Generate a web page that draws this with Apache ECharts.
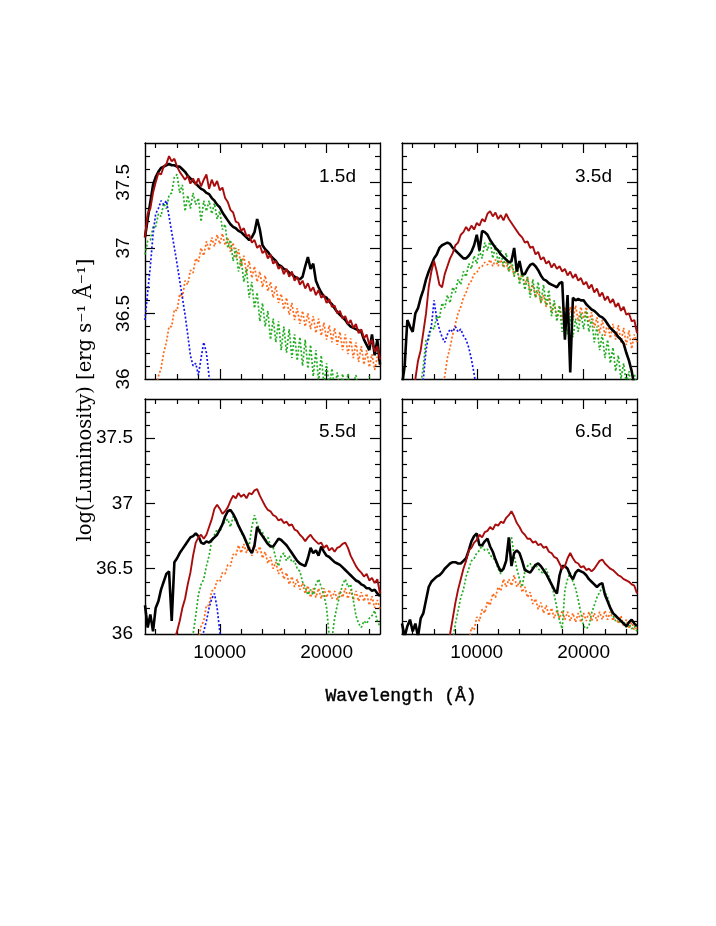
<!DOCTYPE html>
<html>
<head>
<meta charset="utf-8">
<script src="https://cdn.jsdelivr.net/npm/echarts@6/dist/echarts.min.js"></script>
<style>
html,body{margin:0;padding:0;background:#fff;}
#chart{width:716px;height:926px;}
</style>
</head>
<body>
<div id="chart"></div>
<script>
// Wavelength sample grid (Å)
const WL = [
3000,3250,3500,3750, 4000,4250,4500,4750, 5000,5250,5500,5750, 6000,6250,6500,6750,
7000,7250,7500,7750, 8000,8250,8500,8750, 9000,9250,9500,9750, 10000,10250,10500,10750,
11000,11250,11500,11750, 12000,12250,12500,12750, 13000,13250,13500,13750, 14000,14250,14500,14750,
15000,15250,15500,15750, 16000,16250,16500,16750, 17000,17250,17500,17750, 18000,18250,18500,18750,
19000,19250,19500,19750, 20000,20250,20500,20750, 21000,21250,21500,21750, 22000,22250,22500,22750,
23000,23250,23500,23750, 24000,24250,24500,24750, 25000];

const PANEL_LABELS = ['1.5d','3.5d','5.5d','6.5d'];
const X_LABELS = [10000, 20000];
const X_MAJOR = [10000, 20000];
const X_MINOR = [4000,6000,8000,12000,14000,16000,18000,22000,24000];
const Y_LABELS = [36, 36.5, 37, 37.5];
const Y_MAJOR = [36.5, 37, 37.5];
const Y_MINOR = [36.1,36.2,36.3,36.4,36.6,36.7,36.8,36.9,37.1,37.2,37.3,37.4,37.6,37.7];

// ---------- Panel 1.5d ----------
const tl_black = [
37.08,37.22,37.35,37.48, 37.54,37.58,37.61,37.62, 37.63,37.64,37.63,37.63, 37.62,37.62,37.60,37.58,
37.55,37.53,37.51,37.49, 37.47,37.45,37.44,37.42, 37.41,37.38,37.36,37.33, 37.31,37.27,37.24,37.21,
37.18,37.16,37.15,37.13, 37.12,37.10,37.08,37.06, 37.08,37.12,37.22,37.14, 37.02,36.99,36.97,36.94,
36.92,36.90,36.87,36.86, 36.84,36.83,36.81,36.80, 36.78,36.77,36.76,36.78, 36.86,36.93,36.84,36.88,
36.75,36.70,36.66,36.63, 36.62,36.59,36.57,36.54, 36.51,36.49,36.47,36.45, 36.42,36.40,36.39,36.38,
36.37,36.36,36.30,36.26, 36.22,36.34,36.18,36.30, 36.11];
const tl_red = [
37.08,37.26,37.30,37.42, 37.50,37.57,37.56,37.62, 37.64,37.70,37.66,37.68, 37.62,37.58,37.55,37.52,
37.55,37.49,37.53,37.48, 37.53,37.47,37.52,37.56, 37.45,37.52,37.47,37.51, 37.44,37.46,37.38,37.35,
37.29,37.27,37.20,37.19, 37.13,37.15,37.09,37.10, 37.04,37.06,37.00,37.02, 36.96,36.98,36.92,36.95,
36.88,36.90,36.84,36.86, 36.80,36.84,36.78,36.82, 36.75,36.78,36.72,36.75, 36.69,36.73,36.67,36.70,
36.64,36.68,36.62,36.64, 36.58,36.61,36.55,36.56, 36.50,36.52,36.46,36.48, 36.42,36.45,36.39,36.42,
36.35,36.38,36.31,36.34, 36.26,36.30,36.21,36.25, 36.15];
const tl_green = [
36.95,37.05,37.06,37.16, 37.16,37.26,37.24,37.34, 37.30,37.40,37.42,37.54, 37.56,37.42,37.48,37.28,
37.40,37.30,37.42,37.33, 37.38,37.20,37.36,37.28, 37.36,37.26,37.34,37.22, 37.28,37.14,37.18,37.00,
37.06,36.90,37.00,36.82, 36.92,36.74,36.84,36.62, 36.74,36.54,36.66,36.44, 36.58,36.40,36.52,36.30,
36.46,36.28,36.44,36.22, 36.40,36.20,36.38,36.16, 36.34,36.14,36.32,36.10, 36.30,36.08,36.26,36.02,
36.22,35.98,36.18,35.96, 36.12,35.94,36.08,35.92, 36.05,35.92,36.04,35.90, 36.04,35.90,35.96,36.03,
35.92,35.88,35.96,35.88, 36.02,35.88,35.86,35.90, 35.88];
const tl_orange = [
null,null,null,null, 35.93,36.02,36.08,36.20, 36.28,36.40,36.40,36.53, 36.52,36.65,36.62,36.75,
36.72,36.83,36.81,36.92, 36.89,37.00,36.94,37.05, 36.98,37.08,37.01,37.10, 37.03,37.11,37.02,37.08,
36.97,37.04,36.92,36.99, 36.86,36.94,36.81,36.90, 36.77,36.86,36.74,36.82, 36.70,36.79,36.67,36.74,
36.62,36.71,36.58,36.65, 36.53,36.62,36.49,36.58, 36.45,36.54,36.42,36.52, 36.40,36.50,36.38,36.48,
36.35,36.46,36.33,36.43, 36.30,36.41,36.28,36.39, 36.26,36.36,36.22,36.34, 36.19,36.31,36.16,36.28,
36.13,36.25,36.11,36.22, 36.09,36.19,36.07,36.17, 36.11];
const tl_blue = [
36.45,36.66,36.86,37.10, 37.26,37.30,37.36,37.33, 37.36,37.24,37.12,37.00, 36.88,36.75,36.62,36.49,
36.34,36.18,36.10,36.12, 36.03,36.16,36.28,36.20, 36.02,35.90,null,null, null,null,null,null,
null,null,null,null, null,null,null,null, null,null,null,null, null,null,null,null,
null,null,null,null, null,null,null,null, null,null,null,null, null,null,null,null,
null,null,null,null, null,null,null,null, null,null,null,null, null,null,null,null,
null,null,null,null, null,null,null,null, null];

// ---------- Panel 3.5d ----------
const tr_black = [
35.95,36.10,36.45,36.40, 36.36,36.50,36.54,36.62, 36.68,36.76,36.82,36.87, 36.92,36.95,37.00,37.02,
37.03,37.04,37.03,37.00, 36.98,36.96,36.94,36.92, 36.92,36.94,36.97,37.02, 37.10,36.98,37.13,37.12,
37.10,37.06,37.03,37.00, 36.98,36.95,36.93,36.91, 36.89,36.90,37.00,36.82, 36.90,36.80,36.80,36.84,
36.87,36.88,36.86,36.83, 36.79,36.76,36.75,36.73, 36.72,36.71,36.70,36.73, 36.74,36.30,36.64,36.05,
36.62,36.60,36.61,36.60, 36.60,36.57,36.55,36.53, 36.52,36.50,36.48,36.47, 36.45,36.42,36.39,36.37,
36.35,36.32,36.30,36.27, 36.20,36.14,36.06,35.95, 35.90];
const tr_red = [
null,null,null,null, 35.90,36.00,36.14,36.22, 36.36,36.50,36.70,36.82, 36.90,36.82,36.72,36.70,
36.80,36.86,36.92,36.96, 37.02,37.04,37.10,37.12, 37.16,37.13,37.17,37.14, 37.19,37.17,37.22,37.20,
37.26,37.28,37.24,37.27, 37.22,37.25,37.21,37.26, 37.22,37.19,37.16,37.13, 37.10,37.08,37.04,37.05,
37.00,37.01,36.95,36.97, 36.91,36.93,36.88,36.90, 36.85,36.88,36.84,36.86, 36.82,36.84,36.79,36.82,
36.77,36.80,36.75,36.77, 36.72,36.74,36.69,36.72, 36.66,36.69,36.63,36.66, 36.60,36.63,36.58,36.61,
36.55,36.58,36.52,36.55, 36.49,36.50,36.44,36.45, 36.35];
const tr_green = [
null,null,null,null, null,null,null,35.95, 36.10,36.30,36.30,36.40, 36.38,36.48,36.46,36.58,
36.54,36.64,36.58,36.70, 36.66,36.76,36.72,36.82, 36.78,36.88,36.84,36.94, 36.88,36.98,36.92,37.04,
36.98,37.06,36.92,37.02, 36.88,36.98,36.86,36.96, 36.82,36.92,36.78,36.88, 36.72,36.82,36.68,36.78,
36.62,36.76,36.62,36.74, 36.58,36.72,36.56,36.68, 36.48,36.60,36.44,36.56, 36.36,36.52,36.34,36.48,
36.32,36.46,36.36,36.50, 36.38,36.52,36.36,36.46, 36.28,36.40,36.22,36.34, 36.16,36.30,36.12,36.24,
36.06,36.18,36.00,36.12, 35.96,36.06,35.92,36.04, 35.95];
const tr_orange = [
null,null,null,null, null,null,null,null, null,null,null,null, null,null,null,35.95,
36.02,36.16,36.24,36.34, 36.42,36.50,36.55,36.62, 36.66,36.72,36.75,36.80, 36.81,36.85,36.86,36.89,
36.87,36.91,36.86,36.91, 36.86,36.91,36.85,36.89, 36.82,36.87,36.79,36.84, 36.75,36.80,36.72,36.78,
36.66,36.72,36.62,36.68, 36.58,36.64,36.55,36.62, 36.51,36.58,36.47,36.56, 36.45,36.55,36.44,36.55,
36.45,36.56,36.44,36.55, 36.46,36.55,36.43,36.51, 36.39,36.47,36.35,36.45, 36.33,36.43,36.31,36.42,
36.30,36.41,36.28,36.39, 36.26,36.37,36.23,36.34, 36.28];
const tr_blue = [
null,null,null,null, null,null,null,35.90, 36.00,36.22,36.34,36.40, 36.60,36.46,36.38,36.32,
36.28,36.34,36.38,36.36, 36.40,36.36,36.38,36.33, 36.30,36.24,36.15,36.04, 35.90,null,null,null,
null,null,null,null, null,null,null,null, null,null,null,null, null,null,null,null,
null,null,null,null, null,null,null,null, null,null,null,null, null,null,null,null,
null,null,null,null, null,null,null,null, null,null,null,null, null,null,null,null,
null,null,null,null, null,null,null,null, null];

// ---------- Panel 5.5d ----------
const bl_black = [
36.22,36.05,36.15,36.02, 36.20,36.25,36.34,36.40, 36.46,36.48,36.10,36.55, 36.58,36.62,36.65,36.68,
36.71,36.74,36.75,36.77, 36.75,36.70,36.69,36.71, 36.70,36.72,36.74,36.76, 36.80,36.84,36.90,36.94,
36.95,36.92,36.88,36.83, 36.79,36.75,36.70,36.65, 36.62,36.68,36.82,36.78, 36.75,36.72,36.69,36.67,
36.67,36.70,36.73,36.72, 36.70,36.68,36.65,36.62, 36.59,36.56,36.54,36.53, 36.52,36.58,36.66,36.62,
36.64,36.60,36.67,36.63, 36.60,36.59,36.57,36.55, 36.54,36.53,36.51,36.49, 36.47,36.45,36.43,36.41,
36.40,36.38,36.37,36.35, 36.35,36.33,36.34,36.31, 36.29];
const bl_red = [
null,null,null,null, null,null,null,null, null,null,null,35.95, 36.02,36.10,36.20,36.27,
36.38,36.47,36.60,36.70, 36.74,36.76,36.73,36.76, 36.82,36.88,36.96,36.99, 36.96,36.92,36.94,36.97,
37.02,37.06,37.04,37.08, 37.05,37.07,37.04,37.08, 37.07,37.10,37.11,37.06, 37.02,36.98,36.95,36.94,
36.91,36.90,36.87,36.88, 36.85,36.86,36.83,36.84, 36.80,36.79,36.76,36.74, 36.71,36.74,36.76,36.73,
36.71,36.69,36.70,36.66, 36.68,36.64,36.66,36.63, 36.66,36.67,36.69,36.70, 36.66,36.60,36.56,36.52,
36.49,36.47,36.44,36.46, 36.41,36.43,36.39,36.42, 36.31];
const bl_green = [
null,null,null,null, null,null,null,null, null,null,null,null, null,null,null,null,
null,35.92,36.00,36.14, 36.30,36.38,36.42,36.52, 36.60,36.72,36.76,36.80, 36.78,36.84,36.86,36.88,
36.82,36.90,36.86,36.84, 36.78,36.74,36.70,36.68, 36.82,36.91,36.84,36.80, 36.78,36.72,36.74,36.68,
36.66,36.58,36.52,36.60, 36.62,36.56,36.60,36.55, 36.56,36.50,36.48,36.40, 36.36,36.30,36.34,36.30,
36.38,36.42,36.36,36.30, 36.20,35.98,35.96,36.12, 36.22,36.30,36.38,36.42, 36.36,36.38,36.26,36.14,
36.08,36.05,36.10,36.08, 36.12,36.14,36.18,36.10, 36.06];
const bl_orange = [
null,null,null,null, null,null,null,null, null,null,null,null, null,null,null,null,
null,null,null,null, 35.96,36.06,36.10,36.22, 36.22,36.33,36.34,36.41, 36.40,36.47,36.46,36.53,
36.52,36.61,36.60,36.68, 36.62,36.69,36.62,36.68, 36.60,36.68,36.62,36.67, 36.58,36.63,36.54,36.59,
36.50,36.55,36.46,36.51, 36.42,36.47,36.38,36.44, 36.36,36.42,36.34,36.39, 36.31,36.37,36.28,36.35,
36.28,36.35,36.27,36.35, 36.28,36.34,36.27,36.33, 36.26,36.33,36.28,36.35, 36.27,36.34,36.26,36.33,
36.25,36.32,36.25,36.31, 36.22,36.29,36.20,36.26, 36.19];
const bl_blue = [
null,null,null,null, null,null,null,null, null,null,null,null, null,null,null,null,
null,null,null,null, null,35.95,36.02,36.10, 36.20,36.27,36.31,36.20, 36.02,35.90,null,null,
null,null,null,null, null,null,null,null, null,null,null,null, null,null,null,null,
null,null,null,null, null,null,null,null, null,null,null,null, null,null,null,null,
null,null,null,null, null,null,null,null, null,null,null,null, null,null,null,null,
null,null,null,null, null,null,null,null, null];

// ---------- Panel 6.5d ----------
const br_black = [
36.08,35.98,36.06,36.11, 36.02,36.08,35.98,36.12, 36.16,36.26,36.36,36.40, 36.42,36.44,36.45,36.47,
36.50,36.52,36.54,36.55, 36.55,36.54,36.54,36.56, 36.58,36.64,36.71,36.75, 36.77,36.68,36.68,36.71,
36.73,36.67,36.63,36.57, 36.52,36.48,36.50,36.56, 36.74,36.52,36.62,36.64, 36.62,36.56,36.49,36.48,
36.47,36.50,36.53,36.54, 36.52,36.49,36.46,36.42, 36.38,36.34,36.31,36.45, 36.52,36.52,36.50,36.45,
36.42,36.47,36.49,36.48, 36.47,36.45,36.42,36.40, 36.38,36.36,36.38,36.39, 36.30,36.25,36.20,36.16,
36.14,36.12,36.10,36.08, 36.06,36.09,36.11,36.08, 36.06];
const br_red = [
null,null,null,null, null,null,null,null, null,null,null,null, null,null,null,null,
null,35.92,36.00,36.12, 36.24,36.34,36.42,36.50, 36.56,36.64,36.66,36.70, 36.72,36.76,36.74,36.78,
36.79,36.82,36.80,36.84, 36.83,36.86,36.85,36.89, 36.91,36.94,36.90,36.85, 36.82,36.78,36.76,36.73,
36.73,36.70,36.71,36.68, 36.69,36.66,36.67,36.63, 36.62,36.59,36.58,36.54, 36.50,36.52,36.58,36.62,
36.58,36.55,36.54,36.51, 36.52,36.49,36.50,36.48, 36.50,36.53,36.56,36.57, 36.54,36.52,36.50,36.49,
36.47,36.45,36.44,36.42, 36.41,36.40,36.38,36.37, 36.31];
const br_green = [
null,null,null,null, null,null,null,null, null,null,null,null, null,null,null,null,
null,null,null,35.96, 36.08,36.18,36.28,36.34, 36.44,36.50,36.56,36.58, 36.62,36.64,36.68,36.64,
36.65,36.60,36.59,36.56, 36.50,36.46,36.50,36.56, 36.70,36.74,36.60,36.50, 36.42,36.36,36.48,36.52,
36.54,36.50,36.53,36.50, 36.48,36.46,36.50,36.44, 36.38,36.30,36.20,36.10, 36.04,36.34,36.42,36.47,
36.40,36.35,36.26,36.16, 36.06,36.04,36.06,36.16, 36.22,36.28,36.32,36.36, 36.32,36.28,36.20,36.14,
36.10,36.12,36.08,36.10, 36.05,36.08,36.04,36.06, 36.02];
const br_orange = [
null,null,null,null, null,null,null,null, null,null,null,null, null,null,null,null,
null,null,null,null, null,null,null,null, null,35.93,36.05,36.03, 36.13,36.10,36.19,36.16,
36.25,36.22,36.31,36.28, 36.36,36.33,36.42,36.36, 36.42,36.37,36.45,36.36, 36.40,36.32,36.36,36.28,
36.32,36.23,36.27,36.19, 36.24,36.16,36.22,36.14, 36.20,36.12,36.18,36.12, 36.18,36.11,36.17,36.10,
36.16,36.09,36.16,36.09, 36.16,36.10,36.17,36.10, 36.16,36.10,36.17,36.11, 36.18,36.11,36.17,36.10,
36.15,36.08,36.14,36.06, 36.11,36.04,36.09,36.03, 36.05];

const PANELS = [
  {black: tl_black, red: tl_red, green: tl_green, orange: tl_orange, blue: tl_blue},
  {black: tr_black, red: tr_red, green: tr_green, orange: tr_orange, blue: tr_blue},
  {black: bl_black, red: bl_red, green: bl_green, orange: bl_orange, blue: bl_blue},
  {black: br_black, red: br_red, green: br_green, orange: br_orange, blue: null}
];

PANELS.forEach((p, i) => {
  Object.keys(p).forEach(k => {
    if (p[k] && p[k].length !== WL.length) console.error('length mismatch panel ' + i + ' ' + k + ': ' + p[k].length);
  });
});

const GRIDS = [
  {left: 145, top: 143, width: 235, height: 236},
  {left: 402, top: 143, width: 235, height: 236},
  {left: 145, top: 399, width: 235, height: 235},
  {left: 402, top: 399, width: 235, height: 235}
];

const LABEL_FONT = {fontFamily: 'Liberation Sans', fontSize: 19, color: '#000'};
const AXIS_LINE = {show: true, onZero: false, lineStyle: {color: '#000', width: 1.4}};

function makeXAxes(g, showLabels) {
  const base = {gridIndex: g, type: 'value', min: 3000, max: 25000, splitLine: {show: false}};
  const mk = (pos, major) => Object.assign({}, base, {
    position: pos,
    axisLine: major ? AXIS_LINE : {show: false},
    axisTick: {show: true, inside: true, length: major ? 10 : 5,
      customValues: major ? X_MAJOR : X_MINOR, lineStyle: {color: '#000', width: 1.2}},
    axisLabel: (major && pos === 'bottom' && showLabels)
      ? Object.assign({show: true, customValues: X_LABELS, margin: 9, formatter: v => String(v)}, LABEL_FONT)
      : {show: false}
  });
  return [mk('bottom', true), mk('bottom', false), mk('top', true), mk('top', false)];
}

function makeYAxes(g, showLabels, rotated) {
  const base = {gridIndex: g, type: 'value', min: 36, max: 37.8, splitLine: {show: false}};
  const mk = (pos, major) => Object.assign({}, base, {
    position: pos,
    axisLine: major ? AXIS_LINE : {show: false},
    axisTick: {show: true, inside: true, length: major ? 10 : 5,
      customValues: major ? Y_MAJOR : Y_MINOR, lineStyle: {color: '#000', width: 1.2}},
    axisLabel: (major && pos === 'left' && showLabels)
      ? Object.assign({show: true, customValues: Y_LABELS, margin: 12, rotate: rotated ? 90 : 0,
          formatter: v => String(v)}, LABEL_FONT)
      : {show: false}
  });
  return [mk('left', true), mk('left', false), mk('right', true), mk('right', false)];
}

const xAxis = [].concat(makeXAxes(0, false), makeXAxes(1, false), makeXAxes(2, true), makeXAxes(3, true));
const yAxis = [].concat(makeYAxes(0, true, true), makeYAxes(1, false, false), makeYAxes(2, true, false), makeYAxes(3, false, false));

const STYLES = {
  orange: {color: '#ff6a1a', width: 1.7, type: [2, 2]},
  green:  {color: '#22ad22', width: 1.7, type: [2, 2]},
  blue:   {color: '#1414f0', width: 1.7, type: [2, 2]},
  black:  {color: '#000000', width: 2.6, type: 'solid'},
  red:    {color: '#a80c0c', width: 1.9, type: 'solid'}
};
const ORDER = ['orange', 'green', 'blue', 'black', 'red'];

const series = [];
PANELS.forEach((p, g) => {
  ORDER.forEach(k => {
    if (!p[k]) return;
    series.push({
      type: 'line',
      name: k + g,
      xAxisIndex: g * 4,
      yAxisIndex: g * 4,
      data: WL.map((w, i) => [w, p[k][i]]),
      showSymbol: false,
      symbol: 'none',
      clip: true,
      connectNulls: false,
      lineStyle: STYLES[k],
      silent: true
    });
  });
});

const labelPos = [[319, 167], [575, 167], [319, 422], [575, 422]];
const graphic = PANEL_LABELS.map((t, i) => ({
  type: 'text', left: labelPos[i][0], top: labelPos[i][1],
  style: {text: t, font: '19px "Liberation Sans"', fill: '#000'}
}));
graphic.push({
  type: 'text', x: 86, y: 400, rotation: Math.PI / 2,
  style: {text: 'log(Luminosity) [erg s\u207B\u00B9 \u00C5\u207B\u00B9]', font: '19.5px "DejaVu Serif"',
    fill: '#000', textAlign: 'center', textVerticalAlign: 'middle'}
});
graphic.push({
  type: 'text', x: 401, y: 696,
  style: {text: 'Wavelength (\u00C5)', font: '18px "Liberation Mono"', fill: '#000',
    stroke: '#000', lineWidth: 0.4,
    textAlign: 'center', textVerticalAlign: 'middle'}
});

const chart = echarts.init(document.getElementById('chart'), null, {renderer: 'canvas'});
chart.setOption({
  animation: false,
  backgroundColor: '#ffffff',
  grid: GRIDS,
  xAxis: xAxis,
  yAxis: yAxis,
  series: series,
  graphic: graphic
});
</script>
</body>
</html>
